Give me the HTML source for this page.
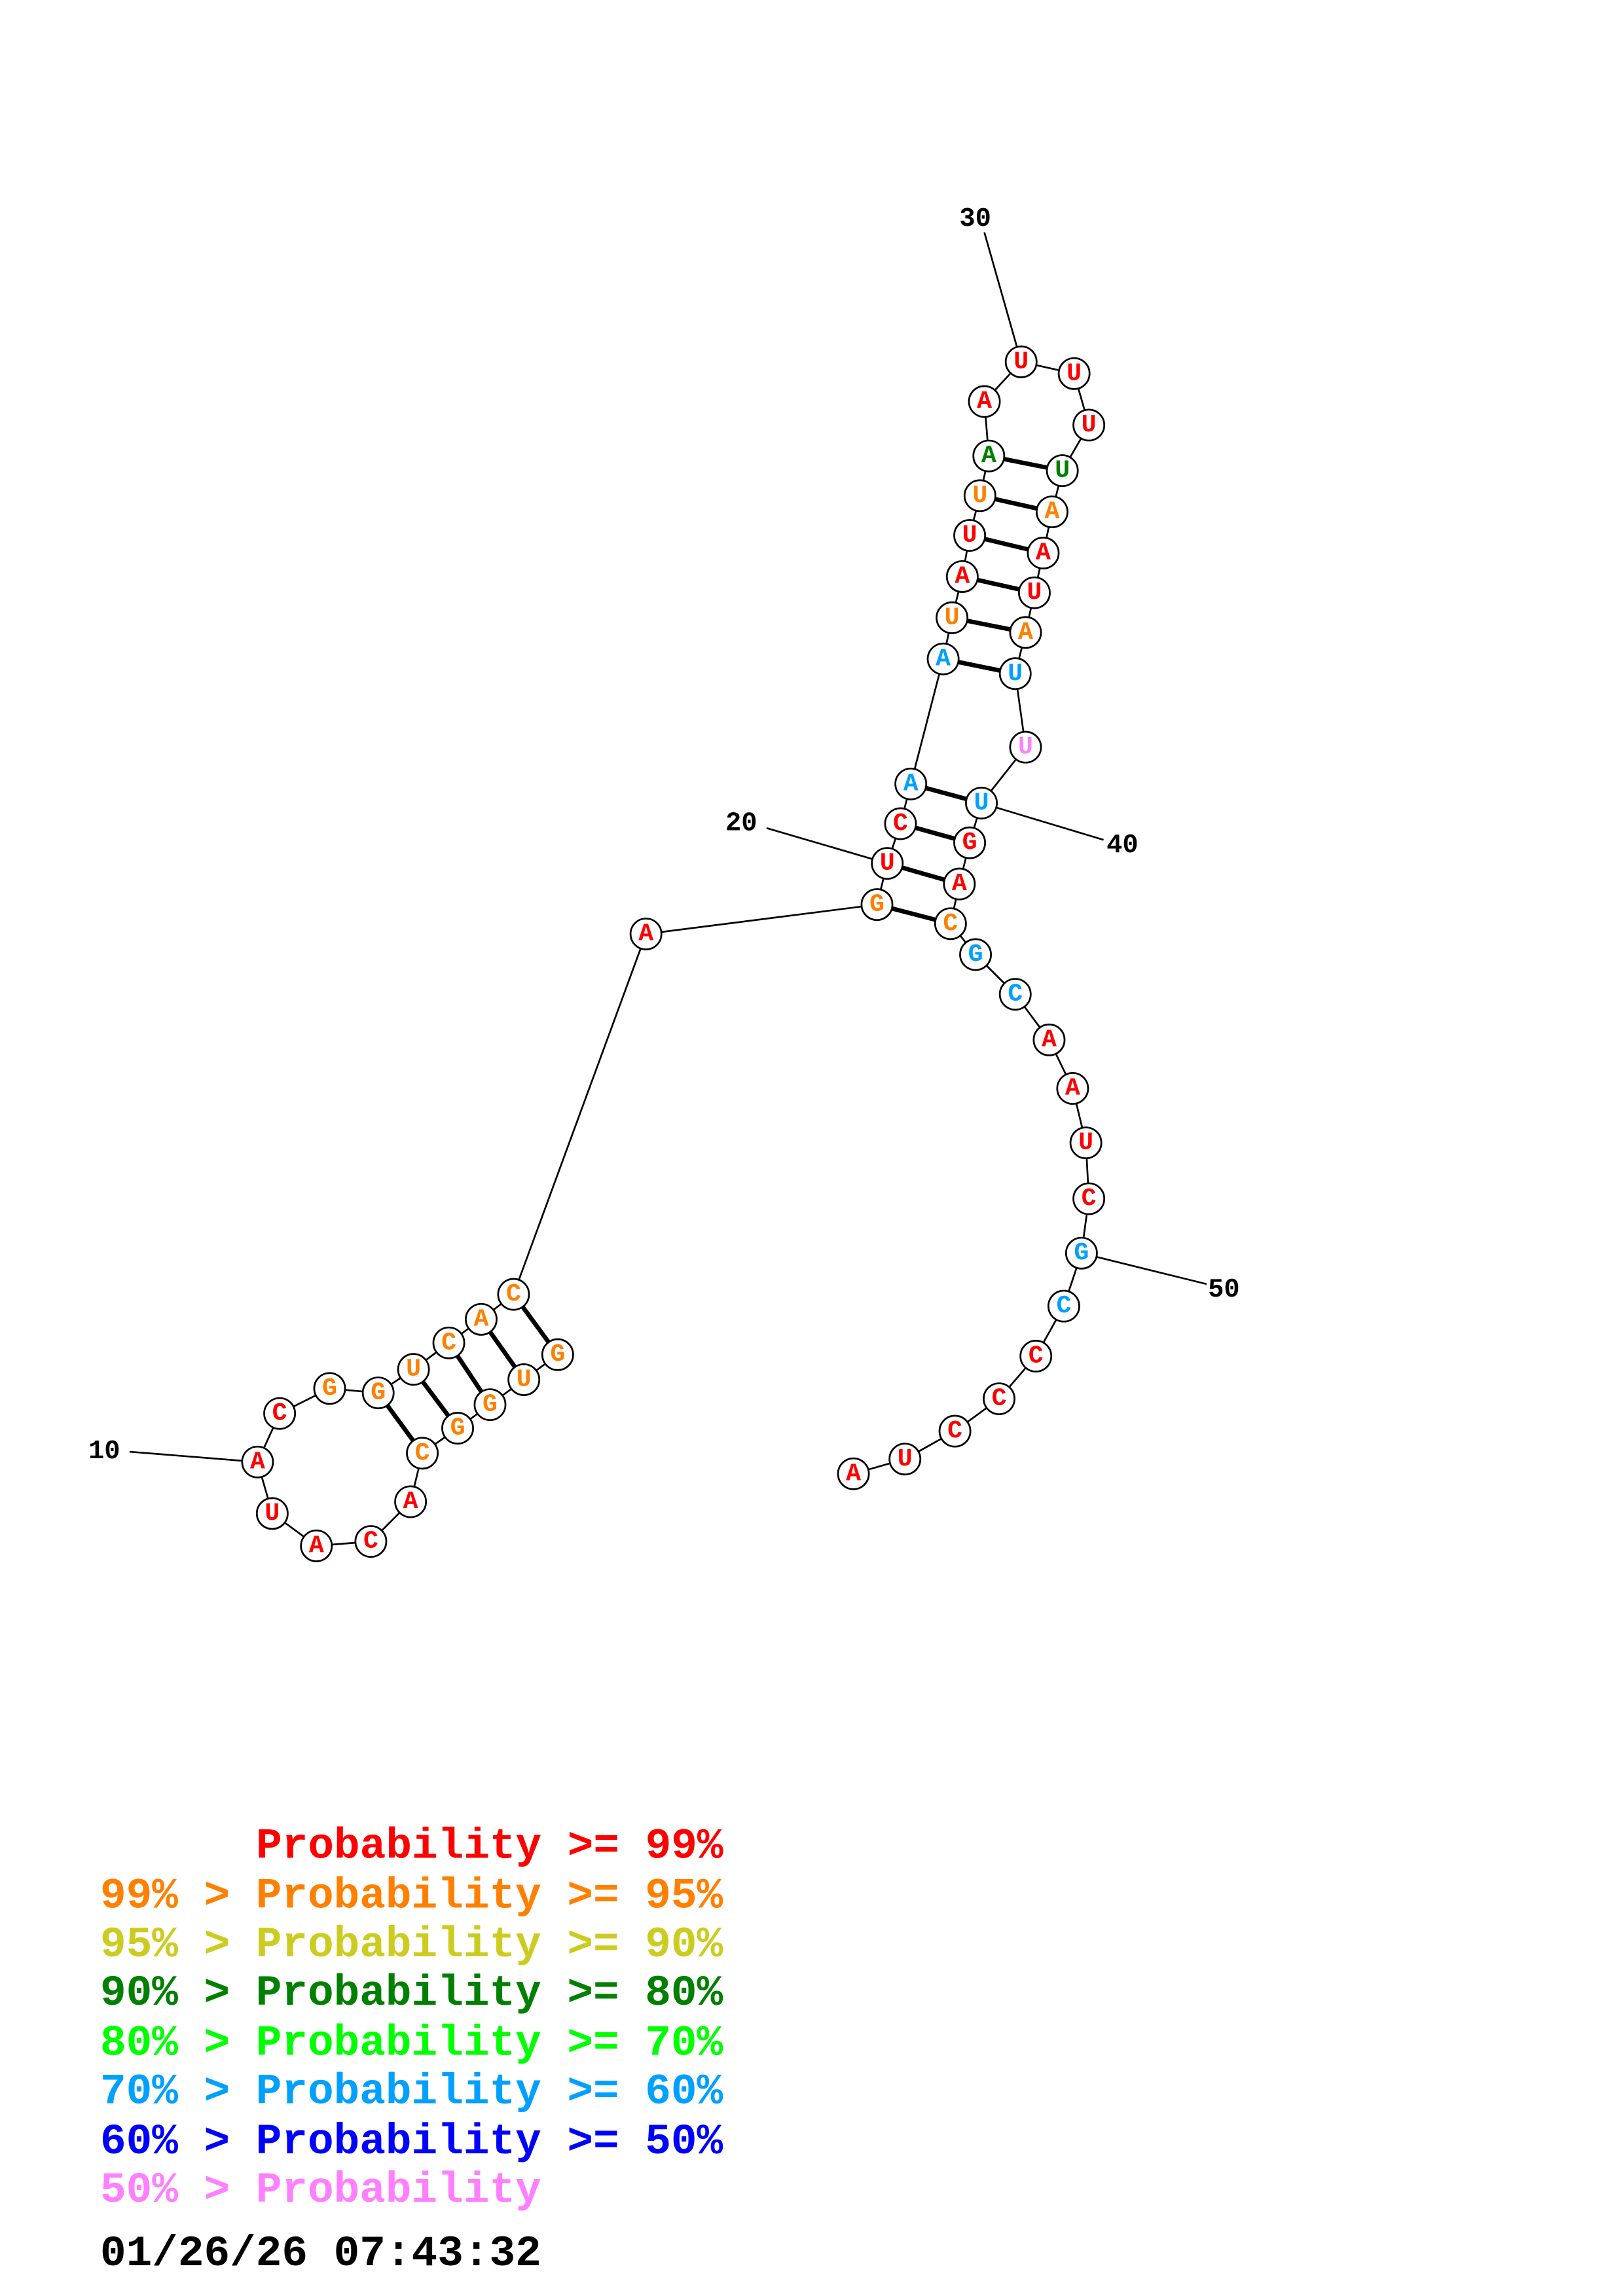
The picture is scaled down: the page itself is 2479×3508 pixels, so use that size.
<!DOCTYPE html>
<html><head><meta charset="utf-8"><style>html,body{margin:0;padding:0;background:#fff}svg{display:block}</style></head>
<body>
<svg width="2479" height="3508" viewBox="0 0 1103 1561" xmlns="http://www.w3.org/2000/svg" font-family="'Liberation Mono',monospace" font-weight="bold">
<rect width="1103" height="1561" fill="#fff"/>
<g stroke="#000" stroke-width="1.2">
<line x1="88" y1="987" x2="175" y2="994"/>
<line x1="521" y1="563" x2="603" y2="587"/>
<line x1="669" y1="158" x2="694" y2="246"/>
<line x1="667" y1="546" x2="750" y2="571"/>
<line x1="735" y1="852" x2="820" y2="873"/>
</g>
<g stroke="#000" stroke-width="1.2" fill="none">
<polyline points="379,921 356,938 333,955 311,971 287,988 279,1021 252,1048 215,1051 185,1029 175,994 190,961 224,944 257,947 281,931 305,913 327,897 349,880 439,635 596,615 603,587 612,560 619,533 641,448 647,420 654,392 659,364 666,337 672,310 669,273 694,246 730,254 740,289 722,320 715,348 709,376 703,403 697,430 690,458 697,508 667,546 659,573 652,601 646,628 663,649 690,676 713,707 729,740 738,777 740,815 735,852 723,888 704,922 679,951 649,973 615,992 580,1002"/>
</g>
<g stroke="#000" stroke-width="3">
<line x1="379" y1="921" x2="349" y2="880"/>
<line x1="356" y1="938" x2="327" y2="897"/>
<line x1="333" y1="955" x2="305" y2="913"/>
<line x1="311" y1="971" x2="281" y2="931"/>
<line x1="287" y1="988" x2="257" y2="947"/>
<line x1="596" y1="615" x2="646" y2="628"/>
<line x1="603" y1="587" x2="652" y2="601"/>
<line x1="612" y1="560" x2="659" y2="573"/>
<line x1="619" y1="533" x2="667" y2="546"/>
<line x1="641" y1="448" x2="690" y2="458"/>
<line x1="647" y1="420" x2="697" y2="430"/>
<line x1="654" y1="392" x2="703" y2="403"/>
<line x1="659" y1="364" x2="709" y2="376"/>
<line x1="666" y1="337" x2="715" y2="348"/>
<line x1="672" y1="310" x2="722" y2="320"/>
</g>
<g stroke="#000" stroke-width="1.2" fill="#fff">
<circle cx="379" cy="921" r="10.5"/><circle cx="356" cy="938" r="10.5"/><circle cx="333" cy="955" r="10.5"/><circle cx="311" cy="971" r="10.5"/><circle cx="287" cy="988" r="10.5"/><circle cx="279" cy="1021" r="10.5"/><circle cx="252" cy="1048" r="10.5"/><circle cx="215" cy="1051" r="10.5"/><circle cx="185" cy="1029" r="10.5"/><circle cx="175" cy="994" r="10.5"/><circle cx="190" cy="961" r="10.5"/><circle cx="224" cy="944" r="10.5"/><circle cx="257" cy="947" r="10.5"/><circle cx="281" cy="931" r="10.5"/><circle cx="305" cy="913" r="10.5"/><circle cx="327" cy="897" r="10.5"/><circle cx="349" cy="880" r="10.5"/><circle cx="439" cy="635" r="10.5"/><circle cx="596" cy="615" r="10.5"/><circle cx="603" cy="587" r="10.5"/><circle cx="612" cy="560" r="10.5"/><circle cx="619" cy="533" r="10.5"/><circle cx="641" cy="448" r="10.5"/><circle cx="647" cy="420" r="10.5"/><circle cx="654" cy="392" r="10.5"/><circle cx="659" cy="364" r="10.5"/><circle cx="666" cy="337" r="10.5"/><circle cx="672" cy="310" r="10.5"/><circle cx="669" cy="273" r="10.5"/><circle cx="694" cy="246" r="10.5"/><circle cx="730" cy="254" r="10.5"/><circle cx="740" cy="289" r="10.5"/><circle cx="722" cy="320" r="10.5"/><circle cx="715" cy="348" r="10.5"/><circle cx="709" cy="376" r="10.5"/><circle cx="703" cy="403" r="10.5"/><circle cx="697" cy="430" r="10.5"/><circle cx="690" cy="458" r="10.5"/><circle cx="697" cy="508" r="10.5"/><circle cx="667" cy="546" r="10.5"/><circle cx="659" cy="573" r="10.5"/><circle cx="652" cy="601" r="10.5"/><circle cx="646" cy="628" r="10.5"/><circle cx="663" cy="649" r="10.5"/><circle cx="690" cy="676" r="10.5"/><circle cx="713" cy="707" r="10.5"/><circle cx="729" cy="740" r="10.5"/><circle cx="738" cy="777" r="10.5"/><circle cx="740" cy="815" r="10.5"/><circle cx="735" cy="852" r="10.5"/><circle cx="723" cy="888" r="10.5"/><circle cx="704" cy="922" r="10.5"/><circle cx="679" cy="951" r="10.5"/><circle cx="649" cy="973" r="10.5"/><circle cx="615" cy="992" r="10.5"/><circle cx="580" cy="1002" r="10.5"/>
</g>
<g font-size="17" text-anchor="middle" dominant-baseline="central">
<text x="379" y="921" fill="#ff8000">G</text><text x="356" y="938" fill="#ff8000">U</text><text x="333" y="955" fill="#ff8000">G</text><text x="311" y="971" fill="#ff8000">G</text><text x="287" y="988" fill="#ff8000">C</text><text x="279" y="1021" fill="#f00">A</text><text x="252" y="1048" fill="#f00">C</text><text x="215" y="1051" fill="#f00">A</text><text x="185" y="1029" fill="#f00">U</text><text x="175" y="994" fill="#f00">A</text><text x="190" y="961" fill="#f00">C</text><text x="224" y="944" fill="#ff8000">G</text><text x="257" y="947" fill="#ff8000">G</text><text x="281" y="931" fill="#ff8000">U</text><text x="305" y="913" fill="#ff8000">C</text><text x="327" y="897" fill="#ff8000">A</text><text x="349" y="880" fill="#ff8000">C</text><text x="439" y="635" fill="#f00">A</text><text x="596" y="615" fill="#ff8000">G</text><text x="603" y="587" fill="#f00">U</text><text x="612" y="560" fill="#f00">C</text><text x="619" y="533" fill="#00a0ff">A</text><text x="641" y="448" fill="#00a0ff">A</text><text x="647" y="420" fill="#ff8000">U</text><text x="654" y="392" fill="#f00">A</text><text x="659" y="364" fill="#f00">U</text><text x="666" y="337" fill="#ff8000">U</text><text x="672" y="310" fill="#008000">A</text><text x="669" y="273" fill="#f00">A</text><text x="694" y="246" fill="#f00">U</text><text x="730" y="254" fill="#f00">U</text><text x="740" y="289" fill="#f00">U</text><text x="722" y="320" fill="#008000">U</text><text x="715" y="348" fill="#ff8000">A</text><text x="709" y="376" fill="#f00">A</text><text x="703" y="403" fill="#f00">U</text><text x="697" y="430" fill="#ff8000">A</text><text x="690" y="458" fill="#00a0ff">U</text><text x="697" y="508" fill="#ff80ff">U</text><text x="667" y="546" fill="#00a0ff">U</text><text x="659" y="573" fill="#f00">G</text><text x="652" y="601" fill="#f00">A</text><text x="646" y="628" fill="#ff8000">C</text><text x="663" y="649" fill="#00a0ff">G</text><text x="690" y="676" fill="#00a0ff">C</text><text x="713" y="707" fill="#f00">A</text><text x="729" y="740" fill="#f00">A</text><text x="738" y="777" fill="#f00">U</text><text x="740" y="815" fill="#f00">C</text><text x="735" y="852" fill="#00a0ff">G</text><text x="723" y="888" fill="#00a0ff">C</text><text x="704" y="922" fill="#f00">C</text><text x="679" y="951" fill="#f00">C</text><text x="649" y="973" fill="#f00">C</text><text x="615" y="992" fill="#f00">U</text><text x="580" y="1002" fill="#f00">A</text>
</g>
<g font-size="18" fill="#000" dominant-baseline="central">
<text x="60" y="987">10</text><text x="493" y="560">20</text><text x="652" y="149">30</text><text x="752" y="575">40</text><text x="821" y="877">50</text>
</g>
<g font-size="29.4">
<text x="174" y="1263" fill="#f00">Probability &gt;= 99%</text>
<text x="68" y="1297" fill="#ff8000">99% &gt; Probability &gt;= 95%</text>
<text x="68" y="1330" fill="#cccc20">95% &gt; Probability &gt;= 90%</text>
<text x="68" y="1363" fill="#008000">90% &gt; Probability &gt;= 80%</text>
<text x="68" y="1397" fill="#00ff00">80% &gt; Probability &gt;= 70%</text>
<text x="68" y="1430" fill="#00a0ff">70% &gt; Probability &gt;= 60%</text>
<text x="68" y="1464" fill="#0000ff">60% &gt; Probability &gt;= 50%</text>
<text x="68" y="1497" fill="#ff80ff">50% &gt; Probability</text>
<text x="68" y="1540" fill="#000">01/26/26 07:43:32</text>
</g>
</svg>
</body></html>
